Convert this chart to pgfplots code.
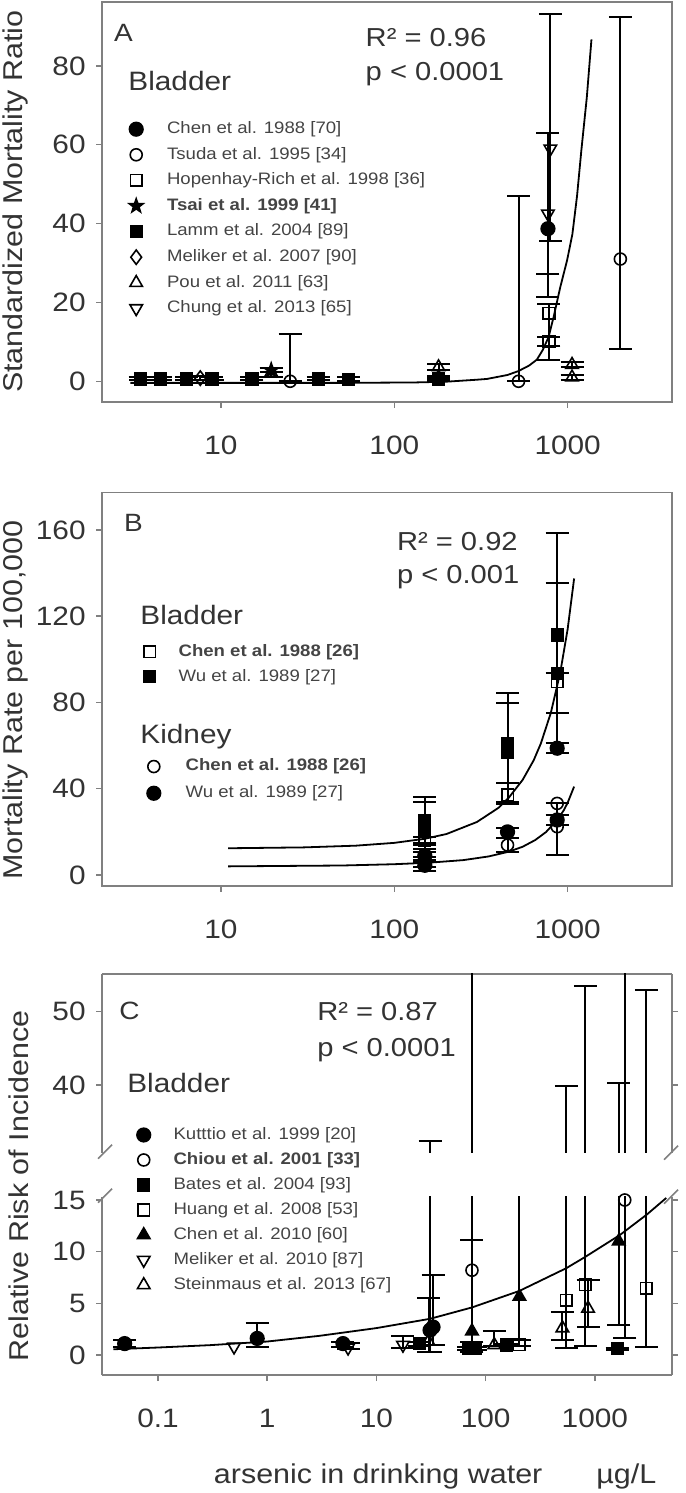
\documentclass[border=0pt]{standalone}
\usepackage{fontspec}
\setmainfont{Liberation Sans}[FakeStretch=1.12]
\usepackage{pgfplots}
\usepackage{pgfplotstable}
\pgfplotsset{compat=1.18}
\usetikzlibrary{plotmarks}
\definecolor{axgray}{HTML}{808080}
\definecolor{txt}{HTML}{333333}
\definecolor{legtxt}{HTML}{444444}
\newcommand\fTick{\fontsize{13.3}{16}\selectfont}
\newcommand\fLab{\fontsize{13.6}{16}\selectfont}
\newcommand\fHead{\fontsize{13.3}{16}\selectfont}
\newcommand\fR{\fontsize{13}{16}\selectfont}
\newcommand\fLet{\fontsize{12.5}{14}\selectfont}
\newcommand\fLeg{\fontsize{8.3}{10}\selectfont}

\pgfdeclareplotmark{fstar}{%
 \pgfpathmoveto{\pgfpointpolar{90}{\pgfplotmarksize}}%
 \pgfpathlineto{\pgfpointpolar{126}{0.4\pgfplotmarksize}}%
 \pgfpathlineto{\pgfpointpolar{162}{\pgfplotmarksize}}%
 \pgfpathlineto{\pgfpointpolar{198}{0.4\pgfplotmarksize}}%
 \pgfpathlineto{\pgfpointpolar{234}{\pgfplotmarksize}}%
 \pgfpathlineto{\pgfpointpolar{270}{0.4\pgfplotmarksize}}%
 \pgfpathlineto{\pgfpointpolar{306}{\pgfplotmarksize}}%
 \pgfpathlineto{\pgfpointpolar{342}{0.4\pgfplotmarksize}}%
 \pgfpathlineto{\pgfpointpolar{18}{\pgfplotmarksize}}%
 \pgfpathlineto{\pgfpointpolar{54}{0.4\pgfplotmarksize}}%
 \pgfpathclose\pgfusepathqfillstroke}

\pgfplotsset{
 every axis/.append style={
  scale only axis, width=285pt, anchor=south west,
  xminorticks=false, yminorticks=false,
  axis line style={axgray,line width=0.75pt},
  tick style={axgray,line width=0.75pt},
  major tick length=3pt, tick align=outside,
  xtick pos=left, ytick pos=left,
  ticklabel style={font=\fTick,text=txt,inner sep=0pt},
  xticklabel style={anchor=north,yshift=-14pt},
  yticklabel style={anchor=east,xshift=-5pt},
  every axis label/.append style={font=\fLab,text=txt},
  ylabel style={anchor=center},
  clip=false,
  legend cell align=left,
  legend style={draw=none,fill=none,font=\fLeg,text=legtxt,inner sep=0pt,outer sep=0pt,anchor=north west,
     nodes={inner sep=0pt,text height=6.2pt,text depth=1.8pt}},
 },
 fitline/.style={black,line width=0.9pt,no markers},
 dat/.style={only marks,black,mark options={line width=0.8pt,black,solid},
   error bars/y dir=both, error bars/y explicit,
   error bars/error bar style={line width=1pt,black},
   error bars/error mark=|,
   error bars/error mark options={mark size=5.75pt,line width=1pt,black}},
 datn/.style={only marks,black,mark options={line width=0.8pt,black,solid}},
}
\pgfplotsset{/pgfplots/table/et/.style={x=x,y=y,y error plus expr=\thisrow{hi}-\thisrow{y},y error minus expr=\thisrow{y}-\thisrow{lo}}}

% ---------- Panel A data ----------
\pgfplotstableread{
x y
3 -0.4
50 -0.4
130 -0.3
200 -0.1
300 0.4
343 0.6
450 1.6
521 2.6
600 4.0
665 5.5
720 8.0
776 11.2
830 16.3
907 23.9
993 30.7
1065 37.3
1133 47
1200 58.6
1290 72
1372 86.7
}\Afit
\pgfplotstableread{
x y lo hi
770 38.7 21.4 62.9
}\Achen
\pgfplotstableread{
x y lo hi
25.1 0 0 12.1
521 0 0 47
2014 31 8.3 92.3
}\Atsuda
\pgfplotstableread{
x y lo hi
780 17.2 9 19.5
780 10.0 5.3 11.2
}\Ahop
\pgfplotstableread{
x y lo hi
19.5 2.8 2.3 3.3
}\Atsai
\pgfplotstableread{
x y lo hi
3.42 0.6 0.2 1.0
4.47 0.6 0.2 1.0
6.31 0.6 0.2 1.0
8.88 0.6 0.2 1.0
15.1 0.6 0.2 1.0
36.5 0.6 0.2 1.0
54.5 0.5 0.0 1.0
180 0.6 0.3 0.9
}\Alamm
\pgfplotstableread{
x y lo hi
7.6 0.8 0.2 1.3
}\Amel
\pgfplotstableread{
x y lo hi
19.5 2.2 1.0 3.3
180 3.6 2.8 4.5
180 1.0 0.5 1.3
1060 4.2 3.6 4.9
1060 1.0 0.3 1.7
}\Apou
\pgfplotstableread{
x y lo hi
795 59 35.5 93.2
770 42.5 27.1 63
}\Achung

% ---------- Panel B data ----------
\pgfplotstableread{
x y
11 12.4
30 12.8
60 13.6
100 14.9
150 16.8
200 19.0
300 24.6
400 31.2
457 35.8
550 44.1
637 53.2
700 60.9
800 75.2
907 94.0
1000 114
1090 137.5
}\Bfit
\pgfplotstableread{
x y
11 4.0
50 4.4
100 5.0
158 5.7
250 6.9
350 8.6
457 10.8
550 13.1
650 16.2
750 19.9
870 25.5
950 30.0
1000 33.5
1090 41
}\Kfit
\pgfplotstableread{
x y lo hi
150 16.2 15 17.5
450 37.1 34 42.5
870 89.7 75 93.5
}\Bchen
\pgfplotstableread{
x y lo hi
150 25 14 36.3
150 21 12 34
450 61 34 84.3
450 57 33 79.6
870 111.3 75 158.4
870 93.5 61 135.6
}\Bwu
\pgfplotstableread{
x y lo hi
150 6 3.5 8.5
450 13.9 10.8 17
870 22.4 9.3 33.2
}\Kchen
\pgfplotstableread{
x y
870 33.2
}\Kchenn
\pgfplotstableread{
x y lo hi
150 9 6 10.5
150 4.5 2.0 7
450 20 10.8 22
870 58.8 56.4 61
870 25.5 23 28
}\Kwu

% ---------- Panel C data ----------
\pgfplotstableread{
x y
0.039 0.55
0.1 0.72
0.3 0.95
1 1.3
3 1.85
10 2.6
31 3.5
75 4.6
204 6.2
548 8.4
819 9.5
1690 11.6
3000 13.6
4510 15.2
}\Cfit
\pgfplotstableread{
x y lo hi
0.0495 1.1 0.8 1.4
0.81 1.6 0.8 3.1
4.94 1.1 0.8 1.3
31 2.4 0.3 32.3
33 2.7 1.0 7.7
}\Ckut
\pgfplotstableread{
x y lo hi
75 8.2 1.3 11.1
1880 15.0 1.6 80
}\Cchiou
\pgfplotstableread{
x y lo hi
24.9 1.1 0.9 1.3
70 0.65 0.5 0.8
80 0.65 0.5 0.8
155 0.97 0.9 1.1
1600 0.6 0.5 0.7
}\Cbates
\pgfplotstableread{
x y lo hi
204 1.0 0.9 1.45
548 5.3 0.7 39.8
819 6.8 0.85 53.5
2966 6.45 0.8 53
}\Chuang
\pgfplotstableread{
x y lo hi
75 2.3 0.3 80
204 5.65 1.45 20
1655 11 2.9 40.2
}\Cchen
\pgfplotstableread{
x y lo hi
5.5 0.7 0.6 1.2
17.5 0.97 0.7 1.8
}\Cmel
\pgfplotstableread{
x y
0.497 0.8
}\Cmeln
\pgfplotstableread{
x y lo hi
30 1.3 0.3 5.5
120 0.97 0.9 2.3
505 2.6 1.45 4.2
867 4.5 2.7 7.3
}\Cstein

\newcommand\Cdata[1]{%
\addplot[fitline, forget plot] table[x=x,y=y]{\Cfit};
\addplot[dat,#1, mark=*, mark size=3.4pt] table[et]{\Ckut};
\addplot[dat,#1, mark=o, mark size=3pt] table[et]{\Cchiou};
\addplot[dat,#1, mark=square*, mark size=2.9pt] table[et]{\Cbates};
\addplot[dat,#1, mark=square, mark size=2.9pt] table[et]{\Chuang};
\addplot[dat,#1, mark=triangle*, mark size=3.6pt] table[et]{\Cchen};
\addplot[dat,#1, mark=triangle, mark size=3.6pt, every mark/.append style={rotate=180}] table[et]{\Cmel};
\addplot[datn, forget plot, mark=triangle, mark size=3.6pt, every mark/.append style={rotate=180}] table[x=x,y=y]{\Cmeln};
\addplot[dat,#1, mark=triangle, mark size=3.6pt] table[et]{\Cstein};
}

\begin{document}
\begin{tikzpicture}
\useasboundingbox (0,0) rectangle (342.5pt,746.5pt);

% ================= Panel A =================
\begin{axis}[xmode=log, name=pa, at={(51pt,545.5pt)}, height=200pt,
 xmin=2.06, xmax=4000, ymin=-5.25, ymax=96.2,
 xtick={10,100,1000}, xticklabels={10,100,1000},
 ytick={0,20,40,60,80}, yticklabels={0,20,40,60,80},
 ylabel={Standardized Mortality Ratio},
 ylabel style={at={(axis description cs:-0.151,0.501)}},
 legend style={at={(axis description cs:0.048,0.702)}, row sep=4.8pt, column sep=12pt}]
\addplot[fitline, forget plot] table[x=x,y=y]{\Afit};
\addplot[dat, mark=*, mark size=3.4pt] table[et]{\Achen}; \addlegendentry{Chen et al. 1988 [70]}
\addplot[dat, mark=o, mark size=3pt] table[et]{\Atsuda}; \addlegendentry{Tsuda et al. 1995 [34]}
\addplot[dat, mark=square, mark size=2.9pt] table[et]{\Ahop}; \addlegendentry{Hopenhay-Rich et al. 1998 [36]}
\addplot[dat, mark=fstar, mark size=3.6pt] table[et]{\Atsai}; \addlegendentry{\textbf{Tsai et al. 1999 [41]}}
\addplot[dat, mark=square*, mark size=2.9pt] table[et]{\Alamm}; \addlegendentry{Lamm et al. 2004 [89]}
\addplot[dat, mark=diamond, mark size=3.6pt] table[et]{\Amel}; \addlegendentry{Meliker et al. 2007 [90]}
\addplot[dat, mark=triangle, mark size=3.6pt] table[et]{\Apou}; \addlegendentry{Pou et al. 2011 [63]}
\addplot[dat, mark=triangle, mark size=3.6pt, every mark/.append style={rotate=180}] table[et]{\Achung}; \addlegendentry{Chung et al. 2013 [65]}
\node[anchor=base west, inner sep=0pt, font=\fLet, text=txt] at (axis description cs:0.0205,0.901) {A};
\node[anchor=base west, inner sep=0pt, font=\fHead, text=txt] at (axis description cs:0.0456,0.778) {Bladder};
\node[anchor=base west, inner sep=0pt, font=\fR, text=txt] at (axis description cs:0.462,0.888) {R² = 0.96};
\node[anchor=base west, inner sep=0pt, font=\fR, text=txt] at (axis description cs:0.462,0.803) {p < 0.0001};
\end{axis}

% ================= Panel B =================
\begin{axis}[xmode=log, name=pb, at={(51pt,303.5pt)}, height=196.65pt,
 xmin=2.06, xmax=4000, ymin=-5.1, ymax=177.3,
 xtick={10,100,1000}, xticklabels={10,100,1000},
 ytick={0,40,80,120,160}, yticklabels={0,40,80,120,160},
 ylabel={Mortality Rate per 100,000},
 ylabel style={at={(axis description cs:-0.151,0.473)}},
 legend style={at={(axis description cs:0.0737,0.616)}, row sep=4.5pt, column sep=11.5pt}]
\addplot[fitline, forget plot] table[x=x,y=y]{\Bfit};
\addplot[dat, mark=square, mark size=2.9pt] table[et]{\Bchen}; \addlegendentry{\textbf{Chen et al. 1988 [26]}}
\addplot[dat, mark=square*, mark size=2.9pt] table[et]{\Bwu}; \addlegendentry{Wu et al. 1989 [27]}
\node[anchor=base west, inner sep=0pt, font=\fLet, text=txt] at (axis description cs:0.038,0.901) {B};
\node[anchor=base west, inner sep=0pt, font=\fHead, text=txt] at (axis description cs:0.0667,0.665) {Bladder};
\node[anchor=base west, inner sep=0pt, font=\fHead, text=txt] at (axis description cs:0.0667,0.363) {Kidney};
\node[anchor=base west, inner sep=0pt, font=\fR, text=txt] at (axis description cs:0.517,0.854) {R² = 0.92};
\node[anchor=base west, inner sep=0pt, font=\fR, text=txt] at (axis description cs:0.517,0.770) {p < 0.001};
\end{axis}
\begin{axis}[xmode=log, hide axis, at={(51pt,303.5pt)}, height=196.65pt,
 xmin=2.06, xmax=4000, ymin=-5.1, ymax=177.3,
 legend style={at={(axis description cs:0.079,0.324)}, row sep=5.35pt, column sep=12.5pt}]
\addplot[fitline, forget plot] table[x=x,y=y]{\Kfit};
\addplot[dat, mark=o, mark size=3pt] table[et]{\Kchen}; \addlegendentry{\textbf{Chen et al. 1988 [26]}}
\addplot[dat, mark=*, mark size=3.4pt] table[et]{\Kwu}; \addlegendentry{Wu et al. 1989 [27]}
\addplot[datn, forget plot, mark=o, mark size=3pt] table[x=x,y=y]{\Kchenn};
\end{axis}

% ================= Panel C (top part) =================
\begin{axis}[xmode=log, name=ctop, at={(51pt,170.15pt)}, height=89.35pt,
 xmin=0.0307, xmax=5090, ymin=30.76, ymax=55.14,
 axis x line*=top, axis y line*=box, xtick=\empty,
 ytick={40,50}, yticklabels={40,50}, clip=true]
\Cdata{forget plot}
\node[anchor=base west, inner sep=0pt, font=\fLet, text=txt] at (axis description cs:0.0298,0.743) {C};
\node[anchor=base west, inner sep=0pt, font=\fR, text=txt] at (axis description cs:0.377,0.739) {R² = 0.87};
\node[anchor=base west, inner sep=0pt, font=\fR, text=txt] at (axis description cs:0.377,0.537) {p < 0.0001};
\node[anchor=base west, inner sep=0pt, font=\fHead, text=txt] at (axis description cs:0.0438,0.336) {Bladder};
\end{axis}

% ================= Panel C (bottom part) =================
\begin{axis}[xmode=log, name=cbot, at={(51pt,59pt)}, height=89.15pt,
 xmin=0.0307, xmax=5090, ymin=-1.94, ymax=15.32,
 axis x line*=bottom, axis y line*=box,
 xtick={0.1,1,10,100,1000}, xticklabels={0.1,1,10,100,1000},
 ytick={0,5,10,15}, yticklabels={0,5,10,15},
 clip=true, clip mode=individual,
 ylabel={Relative Risk of Incidence},
 ylabel style={at={(axis description cs:-0.146,1.06)}},
 xlabel={arsenic in drinking water\hspace{27pt}µg/L},
 xlabel style={at={(axis description cs:0.184,-0.606)}, anchor=base west},
 legend style={at={(axis description cs:0.0613,1.391)}, row sep=4.5pt, column sep=11.5pt}]
\Cdata{}
\legend{Kutttio et al. 1999 [20],\textbf{Chiou et al. 2001 [33]},Bates et al. 2004 [93],Huang et al. 2008 [53],Chen et al. 2010 [60],Meliker et al. 2010 [87],Steinmaus et al. 2013 [67]}
\end{axis}

% axis break marks
\draw[axgray,line width=0.75pt] ([shift={(-2pt,-3pt)}]ctop.south west) -- ([shift={(5pt,4pt)}]ctop.south west);
\draw[axgray,line width=0.75pt] ([shift={(-2pt,-3pt)}]cbot.north west) -- ([shift={(5pt,4pt)}]cbot.north west);
\draw[axgray,line width=0.75pt] ([shift={(-4pt,-3.5pt)}]ctop.south east) -- ([shift={(3pt,3.5pt)}]ctop.south east);
\draw[axgray,line width=0.75pt] ([shift={(-4pt,-3.5pt)}]cbot.north east) -- ([shift={(3pt,3.5pt)}]cbot.north east);
\end{tikzpicture}
\end{document}
